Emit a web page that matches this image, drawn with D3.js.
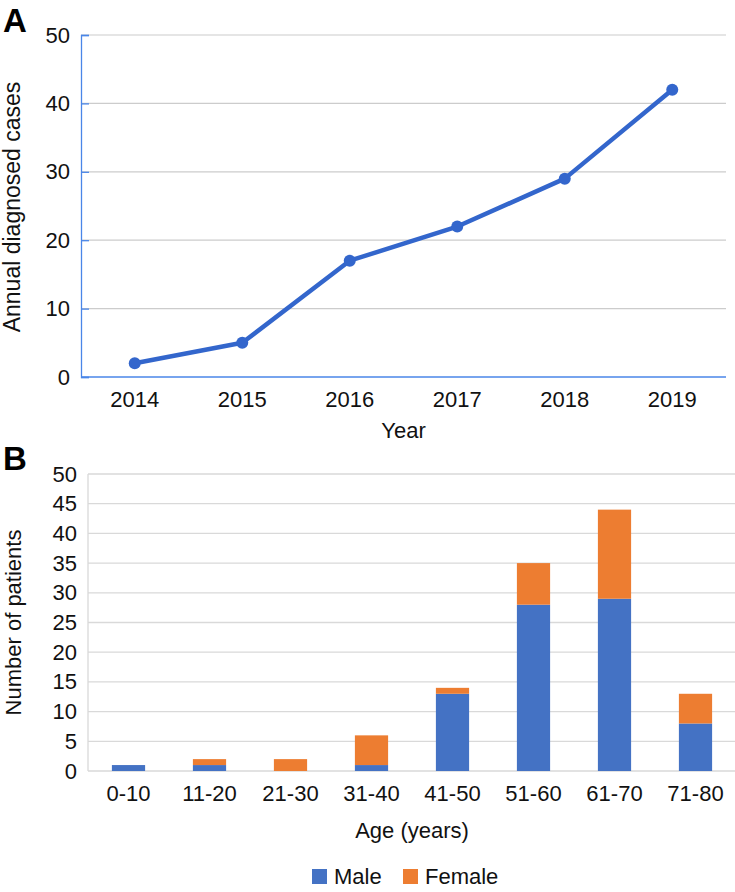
<!DOCTYPE html>
<html><head><meta charset="utf-8">
<script src="https://cdn.jsdelivr.net/npm/d3@7"></script>
<style>
body{margin:0;background:#fff;}
svg{display:block;font-family:"Liberation Sans",Arial,sans-serif;}
</style></head>
<body>
<svg id="c" width="735" height="892"></svg>
<script>
const years = ["2014","2015","2016","2017","2018","2019"];
const annualCases = [2, 5, 17, 22, 29, 42];
const yTicksA = [0,10,20,30,40,50];

const ageGroups = ["0-10","11-20","21-30","31-40","41-50","51-60","61-70","71-80"];
const male =   [1, 1, 0, 1, 13, 28, 29, 8];
const female = [0, 1, 2, 5, 1, 7, 15, 5];
const yTicksB = [0,5,10,15,20,25,30,35,40,45,50];
const seriesNames = ["Male","Female"];
const seriesColors = ["#4472C4","#ED7D31"];

const FS = 22;
const FF = "'Liberation Sans',Arial,sans-serif";
const svg = d3.select("#c");

// ---------- Panel A ----------
const A = {left:81, right:726, top:35, bottom:377};
const xA = d3.scaleBand().domain(years).range([A.left, A.right]).padding(0);
const yA = d3.scaleLinear().domain([0,50]).range([A.bottom, A.top]);
const gA = svg.append("g");

gA.selectAll("line.grid").data(yTicksA.filter(d=>d>0)).join("line")
  .attr("x1", A.left).attr("x2", A.right)
  .attr("y1", d=>yA(d)).attr("y2", d=>yA(d))
  .attr("stroke","#cccccc").attr("stroke-width",1.2);

const axA = gA.append("g").attr("transform",`translate(${A.left},0)`)
  .call(d3.axisLeft(yA).tickValues(yTicksA).tickSize(-8).tickPadding(11));
axA.attr("font-size",FS).attr("font-family",FF);
axA.select(".domain").attr("stroke","#4a86e8").attr("stroke-width",1.3);
axA.selectAll(".tick line").attr("stroke","#4a86e8").attr("stroke-width",1.3);
axA.selectAll(".tick text").attr("fill","#111");

gA.append("line").attr("x1",A.left).attr("x2",A.right)
  .attr("y1",A.bottom).attr("y2",A.bottom)
  .attr("stroke","#4a86e8").attr("stroke-width",1.3);

const bxA = gA.append("g").attr("transform",`translate(0,${A.bottom})`)
  .call(d3.axisBottom(xA).tickSize(0).tickPadding(14));
bxA.attr("font-size",FS).attr("font-family",FF);
bxA.select(".domain").remove();
bxA.selectAll(".tick text").attr("fill","#111");

const cx = d => xA(d) + xA.bandwidth()/2;
gA.append("path").datum(years.map((y,i)=>[cx(y), yA(annualCases[i])]))
  .attr("d", d3.line()).attr("fill","none")
  .attr("stroke","#3366CC").attr("stroke-width",4.5).attr("stroke-linejoin","round");
gA.selectAll("circle").data(years).join("circle")
  .attr("cx", d=>cx(d)).attr("cy",(d,i)=>yA(annualCases[i])).attr("r",6)
  .attr("fill","#3366CC");

gA.append("text").attr("x",(A.left+A.right)/2).attr("y",438)
  .attr("text-anchor","middle").attr("font-size",FS).attr("fill","#111").text("Year");
gA.append("text").attr("transform",`translate(20,${(A.top+A.bottom)/2+1}) rotate(-90)`)
  .attr("text-anchor","middle").attr("font-size",FS+1).attr("fill","#111").text("Annual diagnosed cases");
svg.append("text").attr("x",3).attr("y",32).attr("font-size",33).attr("font-weight","bold")
  .attr("fill","#000").text("A");

// ---------- Panel B ----------
const B = {left:88, right:736, top:474, bottom:771};
const xB = d3.scaleBand().domain(ageGroups).range([B.left, B.right]).paddingInner(0.59).paddingOuter(0.295);
const yB = d3.scaleLinear().domain([0,50]).range([B.bottom, B.top]);
const gB = svg.append("g");

gB.selectAll("line.grid").data(yTicksB).join("line")
  .attr("x1", B.left).attr("x2", B.right)
  .attr("y1", d=>yB(d)).attr("y2", d=>yB(d))
  .attr("stroke","#d9d9d9").attr("stroke-width",1.3);
gB.append("line").attr("x1",B.left).attr("x2",B.left).attr("y1",B.top).attr("y2",B.bottom)
  .attr("stroke","#d9d9d9").attr("stroke-width",1.3);

const stackData = ageGroups.map((g,i)=>({group:g, Male:male[i], Female:female[i]}));
const stacked = d3.stack().keys(seriesNames)(stackData);
gB.selectAll("g.series").data(stacked).join("g")
  .attr("fill",(d,i)=>seriesColors[i])
  .selectAll("rect").data(d=>d).join("rect")
  .attr("x", d=>xB(d.data.group)).attr("width", xB.bandwidth())
  .attr("y", d=>yB(d[1])).attr("height", d=>yB(d[0])-yB(d[1]));

const ayB = gB.append("g").attr("transform",`translate(${B.left},0)`)
  .call(d3.axisLeft(yB).tickValues(yTicksB).tickSize(0).tickPadding(11));
ayB.attr("font-size",FS).attr("font-family",FF);
ayB.select(".domain").remove();
ayB.selectAll(".tick text").attr("fill","#111");

const axB = gB.append("g").attr("transform",`translate(0,${B.bottom})`)
  .call(d3.axisBottom(xB).tickSize(0).tickPadding(14));
axB.attr("font-size",FS).attr("font-family",FF);
axB.select(".domain").remove();
axB.selectAll(".tick text").attr("fill","#111");

gB.append("text").attr("x",(B.left+B.right)/2).attr("y",838)
  .attr("text-anchor","middle").attr("font-size",FS).attr("fill","#111").text("Age (years)");
gB.append("text").attr("transform",`translate(21,${(B.top+B.bottom)/2}) rotate(-90)`)
  .attr("text-anchor","middle").attr("font-size",FS).attr("fill","#111").text("Number of patients");
svg.append("text").attr("x",3).attr("y",470).attr("font-size",33).attr("font-weight","bold")
  .attr("fill","#000").text("B");

// legend
const legX = [312, 403];
const leg = svg.append("g");
seriesNames.forEach((s,i)=>{
  leg.append("rect").attr("x",legX[i]).attr("y",869).attr("width",15).attr("height",15).attr("fill",seriesColors[i]);
  leg.append("text").attr("x",legX[i]+22).attr("y",884).attr("font-size",FS).attr("fill","#111").text(s);
});
</script>
</body></html>
